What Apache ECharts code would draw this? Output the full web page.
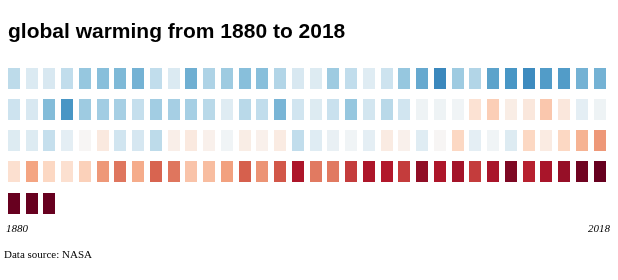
<!DOCTYPE html>
<html>
<head>
<meta charset="utf-8">
<script src="https://cdn.jsdelivr.net/npm/echarts@6/dist/echarts.min.js"></script>
<style>
  html, body { margin: 0; padding: 0; background: #fff; }
  #chart { width: 618px; height: 280px; }
</style>
</head>
<body>
<div id="chart"></div>
<script>
// annual temperature anomaly (°C)
const startYear = 1880;
const anomalies = [
  // 1880 - 1913
  -0.21, -0.12, -0.13, -0.20, -0.31, -0.34, -0.36, -0.38, -0.20, -0.12, -0.39, -0.25, -0.29, -0.34, -0.34, -0.24, -0.13,
  -0.11, -0.29, -0.20, -0.10, -0.17, -0.31, -0.41, -0.52, -0.29, -0.24, -0.43, -0.47, -0.51, -0.45, -0.45, -0.38, -0.38,
  // 1914 - 1947
  -0.17, -0.13, -0.35, -0.47, -0.29, -0.28, -0.27, -0.19, -0.28, -0.27, -0.27, -0.22, -0.10, -0.22, -0.20, -0.37, -0.16,
  -0.11, -0.18, -0.31, -0.15, -0.22, -0.16, -0.04, -0.04, -0.03, 0.12, 0.20, 0.06, 0.09, 0.22, 0.09, -0.08, -0.04,
  // 1948 - 1981
  -0.11, -0.11, -0.19, -0.08, 0.01, 0.08, -0.16, -0.14, -0.21, 0.05, 0.08, 0.04, -0.03, 0.06, 0.04, 0.07, -0.20,
  -0.10, -0.06, -0.03, -0.08, 0.07, 0.04, -0.10, 0.01, 0.17, -0.08, -0.03, -0.11, 0.17, 0.07, 0.17, 0.28, 0.35,
  // 1982 - 2015
  0.13, 0.32, 0.17, 0.13, 0.19, 0.35, 0.43, 0.30, 0.47, 0.43, 0.23, 0.25, 0.33, 0.48, 0.36, 0.50, 0.65,
  0.42, 0.42, 0.56, 0.65, 0.64, 0.56, 0.71, 0.65, 0.67, 0.56, 0.66, 0.75, 0.62, 0.66, 0.70, 0.78, 0.90,
  // 2016 - 2018
  1.01, 0.92, 0.85
];
const perRow = 34;
const edgeLabels = ['1880', '2018'];
const titleText = 'global warming from 1880 to 2018';
const sourceText = 'Data source: NASA';
// RdBu, warm to cold
const palette = ['#67001f', '#b2182b', '#d6604d', '#f4a582', '#fddbc7', '#f7f7f7',
  '#d1e5f0', '#92c5de', '#4393c3', '#2166ac', '#053061'];

const cells = anomalies.map((v, i) => ({
  name: String(startYear + i),
  value: [i % perRow, Math.floor(i / perRow), v]
}));

const chart = echarts.init(document.getElementById('chart'), null, { renderer: 'canvas' });

// one cell per year, snapped to whole pixels
const renderCell = (params, api) => {
  const p = api.coord([api.value(0), api.value(1)]);
  return {
    type: 'rect',
    shape: { x: Math.round(p[0] - 6), y: Math.round(p[1] - 10.5), width: 12, height: 21 },
    style: { fill: api.visual('color') }
  };
};

const option = {
  animation: false,
  backgroundColor: '#fff',
  title: {
    text: titleText,
    left: 3,
    top: 17,
    textStyle: {
      fontFamily: 'Liberation Sans, Arial, sans-serif',
      fontSize: 21,
      fontWeight: 'bold',
      color: '#000'
    }
  },
  grid: { left: 14, right: 18.5, top: 78.5, bottom: 77 },
  xAxis: { type: 'value', min: 0, max: perRow - 1, show: false },
  yAxis: { type: 'value', min: 0, max: 4, inverse: true, show: false },
  visualMap: {
    show: false,
    type: 'continuous',
    dimension: 2,
    min: -0.8,
    max: 0.8,
    inRange: { color: palette.slice().reverse() }
  },
  series: [{
    type: 'custom',
    renderItem: renderCell,
    encode: { x: 0, y: 1 },
    data: cells
  }],
  graphic: [
    {
      type: 'text', left: 6, top: 224,
      style: { text: edgeLabels[0], font: 'italic 11px "Liberation Serif", serif', fill: '#000' }
    },
    {
      type: 'text', right: 8, top: 224,
      style: { text: edgeLabels[1], font: 'italic 11px "Liberation Serif", serif', fill: '#000' }
    },
    {
      type: 'text', left: 4, top: 250,
      style: { text: sourceText, font: '11px "Liberation Serif", serif', fill: '#000' }
    }
  ]
};

chart.setOption(option);
</script>
</body>
</html>
